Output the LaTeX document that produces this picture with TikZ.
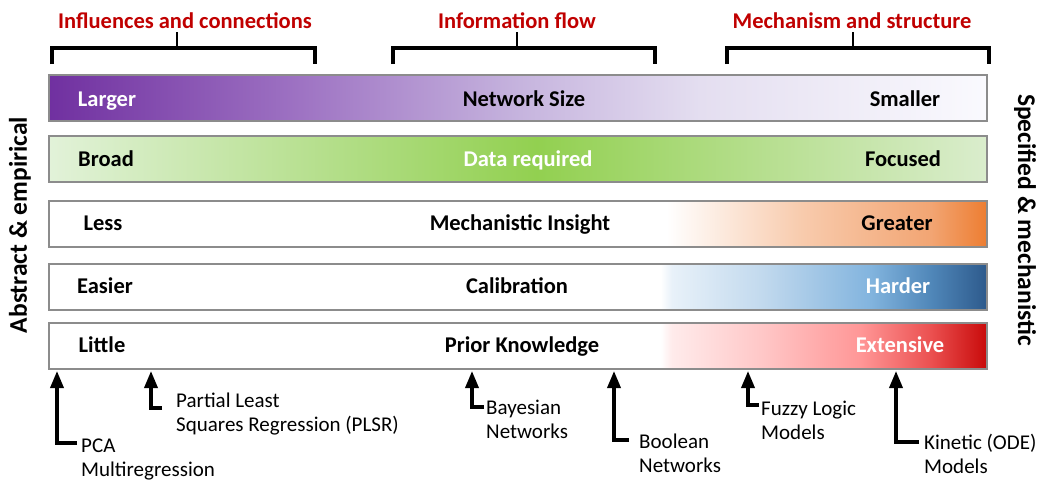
\documentclass[tikz,border=0pt]{standalone}
\usepackage{fontspec}
\setmainfont{Carlito}
\usetikzlibrary{arrows.meta}

\definecolor{titlered}{RGB}{192,0,0}
\definecolor{barline}{RGB}{140,140,140}
% purple (network size)
\definecolor{puA}{RGB}{112,48,160}
\definecolor{puB}{RGB}{158,115,195}
\definecolor{puC}{RGB}{198,180,222}
\definecolor{puD}{RGB}{228,222,240}
\definecolor{puE}{RGB}{250,250,254}
% green (data)
\definecolor{grA}{RGB}{226,242,217}
\definecolor{grB}{RGB}{146,208,80}
\definecolor{grC}{RGB}{218,237,205}
% orange (insight)
\definecolor{orB}{RGB}{248,203,173}
\definecolor{orC}{RGB}{242,165,115}
\definecolor{orD}{RGB}{237,125,49}
% blue (calibration)
\definecolor{blA}{RGB}{232,241,249}
\definecolor{blB}{RGB}{195,218,238}
\definecolor{blC}{RGB}{130,180,222}
\definecolor{blD}{RGB}{80,135,185}
\definecolor{blE}{RGB}{45,90,140}
% red (knowledge)
\definecolor{rdA}{RGB}{255,235,235}
\definecolor{rdB}{RGB}{255,200,200}
\definecolor{rdC}{RGB}{255,150,150}
\definecolor{rdD}{RGB}{235,80,80}
\definecolor{rdE}{RGB}{200,10,10}

% bar spans 25bp..75bp of the shading
\pgfdeclarehorizontalshading{sizeshade}{100bp}{color(0bp)=(puA); color(25bp)=(puA); color(38.4bp)=(puB); color(50.1bp)=(puC); color(59.7bp)=(puD); color(75bp)=(puE); color(100bp)=(puE)}
\pgfdeclarehorizontalshading{datashade}{100bp}{color(0bp)=(grA); color(25bp)=(grA); color(51bp)=(grB); color(75bp)=(grC); color(100bp)=(grC)}
\pgfdeclarehorizontalshading{insightshade}{100bp}{color(0bp)=(white); color(57.9bp)=(white); color(65.1bp)=(orB); color(72bp)=(orC); color(75bp)=(orD); color(100bp)=(orD)}
\pgfdeclarehorizontalshading{calibshade}{100bp}{color(0bp)=(white); color(57.6bp)=(white); color(58.2bp)=(blA); color(62.9bp)=(blB); color(68.8bp)=(blC); color(72bp)=(blD); color(75bp)=(blE); color(100bp)=(blE)}
\pgfdeclarehorizontalshading{priorshade}{100bp}{color(0bp)=(white); color(57.6bp)=(white); color(58.2bp)=(rdA); color(62.9bp)=(rdB); color(68.3bp)=(rdC); color(72bp)=(rdD); color(75bp)=(rdE); color(100bp)=(rdE)}

\newcommand{\barfont}{\fontsize{22.5}{26}\selectfont\bfseries}

\begin{document}
\begin{tikzpicture}[x=1pt,y=-1pt,
    bar/.style={draw=barline, line width=2pt, shade, minimum width=938pt, minimum height=46pt, inner sep=0pt},
    lab/.style={anchor=base, font=\barfont},
    heading/.style={anchor=base, text=titlered, font=\fontsize{22.5}{26}\selectfont\bfseries},
    side/.style={font=\fontsize{25.5}{29}\selectfont\bfseries},
    brace/.style={line width=4.5pt},
    method/.style={anchor=base west, align=left, inner sep=0pt, font=\fontsize{21}{24}\selectfont},
    pointer/.style={line width=3.5pt, -{Triangle[length=17pt,width=13pt]}}]
  \useasboundingbox (0,0) rectangle (1056,480);

  % headings and brackets
  \node[heading] (infl) at (185,28) {Influences and connections};
  \node[heading] (flow) at (517,28) {Information flow};
  \node[heading] (mech) at (852,28) {Mechanism and structure};
  \draw[brace] (52,64) -- (52,48) -- (315,48) -- (315,64);
  \draw[brace] (393,64) -- (393,48) -- (655,48) -- (655,64);
  \draw[brace] (727,64) -- (727,48) -- (989,48) -- (989,64);
  \foreach \tx in {177,517,853}
    \draw[line width=2.5pt] (\tx,32) -- (\tx,48);

  % bars
  \node[bar, shading=sizeshade] (size) at (518,97.5) {};
  \node[bar, shading=datashade] (data) at (518,158.5) {};
  \node[bar, shading=insightshade] (insight) at (518,223.5) {};
  \node[bar, shading=calibshade] (calib) at (518,286.5) {};
  \node[bar, shading=priorshade] (prior) at (518,345.5) {};

  \node[lab, white] (larger) at (107,106) {Larger};
  \node[lab] (sizetxt) at (524,106) {Network Size};
  \node[lab] (smaller) at (905,106) {Smaller};
  \node[lab] (broad) at (106,166) {Broad};
  \node[lab, white] (datatxt) at (528,166) {Data required};
  \node[lab] (focused) at (903,166) {Focused};
  \node[lab] (less) at (103,230.5) {Less};
  \node[lab] (insighttxt) at (520,230.5) {Mechanistic Insight};
  \node[lab] (greater) at (897,230.5) {Greater};
  \node[lab] (easier) at (105,293.5) {Easier};
  \node[lab] (calibtxt) at (517,293.5) {Calibration};
  \node[lab, white] (harder) at (898,293.5) {Harder};
  \node[lab] (little) at (102,352) {Little};
  \node[lab] (priortxt) at (522,352) {Prior Knowledge};
  \node[lab, white] (extensive) at (900,352) {Extensive};

  % side labels
  \node[side, rotate=90] (abstract) at (20,225) {Abstract \& empirical};
  \node[side, rotate=-90] (specified) at (1025,220) {Specified \& mechanistic};

  % methods along the axis
  \foreach \nm/\ax/\sy/\sx/\lx/\ly/\txt in {
      pca/57/443/77/81/476/{PCA\\Multiregression},
      plsr/151/408/162/176/431/{Partial Least\\Squares Regression (PLSR)},
      bayes/472/407/484/486/438/{Bayesian\\Networks},
      bool/614/440/629/639/472/{Boolean\\Networks},
      fuzzy/748/405/759/761/439/{Fuzzy Logic\\Models},
      kin/896/442/919/924/473/{Kinetic (ODE)\\Models}} {
    \node[method] (\nm) at (\lx,\ly) {\txt};
    \coordinate (\nm stub) at (\sx,\sy);
    \coordinate (\nm tip) at (\ax,371);
    \draw[pointer] (\nm stub) -| (\nm tip);
  }
\end{tikzpicture}
\end{document}
